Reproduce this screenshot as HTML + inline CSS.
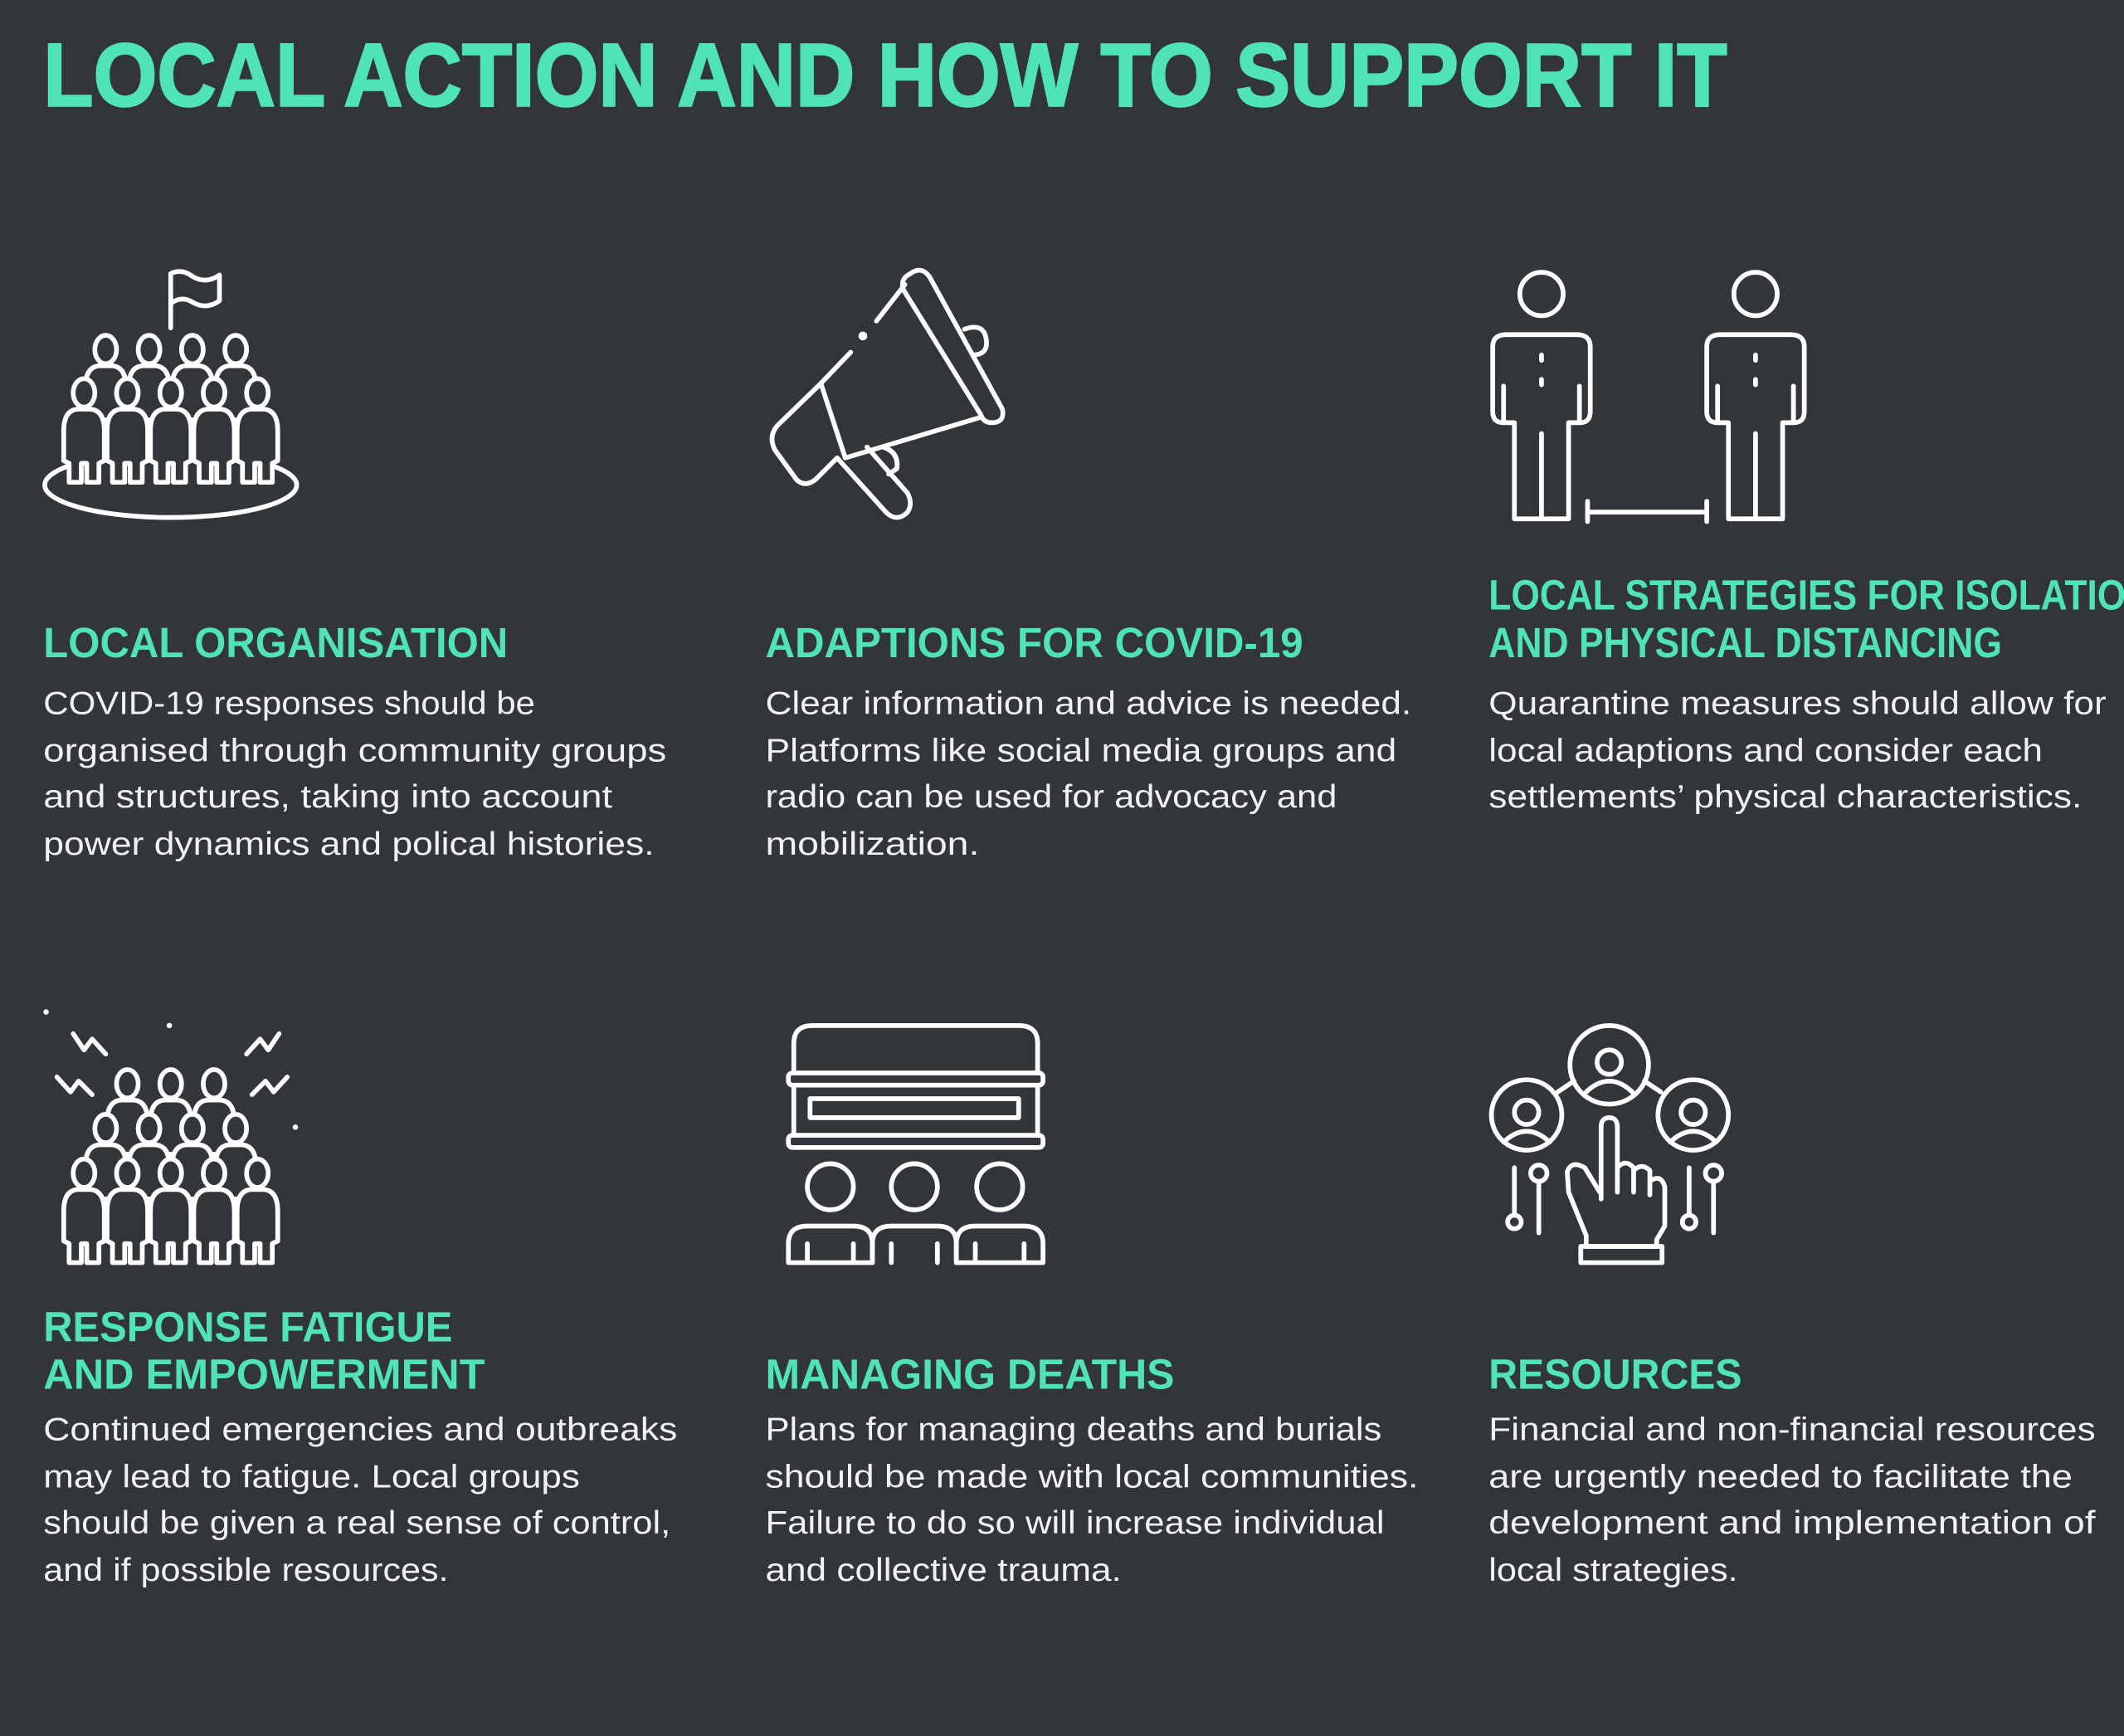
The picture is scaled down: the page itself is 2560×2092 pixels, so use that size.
<!DOCTYPE html>
<html><head><meta charset="utf-8"><style>
html,body{margin:0;padding:0;background:#323539;}
svg{display:block}
.t{font-family:"Liberation Sans",sans-serif;font-weight:bold;fill:#4fe3b6}
.h{font-family:"Liberation Sans",sans-serif;font-weight:bold;fill:#4fe3b6;font-size:31px}
.b{font-family:"Liberation Sans",sans-serif;fill:#f2f2f2;font-size:24px}
.i{fill:none;stroke:#fff;stroke-width:3.5;stroke-linecap:round;stroke-linejoin:round}
.f{fill:#323539;stroke:#fff;stroke-width:3.5;stroke-linejoin:round}
</style></head><body>
<svg width="2560" height="2092" viewBox="0 0 1568 1281.4" xmlns="http://www.w3.org/2000/svg">
<rect width="1568" height="1282" fill="#323539"/>
<text class="t" x="32" y="78" font-size="66" textLength="1243" lengthAdjust="spacingAndGlyphs" stroke="#4fe3b6" stroke-width="1.5">LOCAL ACTION AND HOW TO SUPPORT IT</text>

<text class="h" x="32" y="485" textLength="343" lengthAdjust="spacingAndGlyphs">LOCAL ORGANISATION</text>
<g class="b">
<text x="32" y="527" textLength="363" lengthAdjust="spacingAndGlyphs">COVID-19 responses should be</text>
<text x="32" y="562" textLength="460" lengthAdjust="spacingAndGlyphs">organised through community groups</text>
<text x="32" y="596" textLength="420" lengthAdjust="spacingAndGlyphs">and structures, taking into account</text>
<text x="32" y="631" textLength="451" lengthAdjust="spacingAndGlyphs">power dynamics and polical histories.</text>
</g>
<text class="h" x="565" y="485" textLength="397" lengthAdjust="spacingAndGlyphs">ADAPTIONS FOR COVID-19</text>
<g class="b">
<text x="565" y="527" textLength="477" lengthAdjust="spacingAndGlyphs">Clear information and advice is needed.</text>
<text x="565" y="562" textLength="466" lengthAdjust="spacingAndGlyphs">Platforms like social media groups and</text>
<text x="565" y="596" textLength="422" lengthAdjust="spacingAndGlyphs">radio can be used for advocacy and</text>
<text x="565" y="631" textLength="158" lengthAdjust="spacingAndGlyphs">mobilization.</text>
</g>
<text class="h" x="1099" y="450" textLength="490" lengthAdjust="spacingAndGlyphs">LOCAL STRATEGIES FOR ISOLATION</text>
<text class="h" x="1099" y="485" textLength="379" lengthAdjust="spacingAndGlyphs">AND PHYSICAL DISTANCING</text>
<g class="b">
<text x="1099" y="527" textLength="456" lengthAdjust="spacingAndGlyphs">Quarantine measures should allow for</text>
<text x="1099" y="562" textLength="409" lengthAdjust="spacingAndGlyphs">local adaptions and consider each</text>
<text x="1099" y="596" textLength="438" lengthAdjust="spacingAndGlyphs">settlements’ physical characteristics.</text>
</g>

<text class="h" x="32" y="990" textLength="302" lengthAdjust="spacingAndGlyphs">RESPONSE FATIGUE</text>
<text class="h" x="32" y="1025" textLength="326" lengthAdjust="spacingAndGlyphs">AND EMPOWERMENT</text>
<g class="b">
<text x="32" y="1063" textLength="468" lengthAdjust="spacingAndGlyphs">Continued emergencies and outbreaks</text>
<text x="32" y="1098" textLength="396" lengthAdjust="spacingAndGlyphs">may lead to fatigue. Local groups</text>
<text x="32" y="1132" textLength="463" lengthAdjust="spacingAndGlyphs">should be given a real sense of control,</text>
<text x="32" y="1167" textLength="299" lengthAdjust="spacingAndGlyphs">and if possible resources.</text>
</g>
<text class="h" x="565" y="1025" textLength="302" lengthAdjust="spacingAndGlyphs">MANAGING DEATHS</text>
<g class="b">
<text x="565" y="1063" textLength="455" lengthAdjust="spacingAndGlyphs">Plans for managing deaths and burials</text>
<text x="565" y="1098" textLength="482" lengthAdjust="spacingAndGlyphs">should be made with local communities.</text>
<text x="565" y="1132" textLength="457" lengthAdjust="spacingAndGlyphs">Failure to do so will increase individual</text>
<text x="565" y="1167" textLength="263" lengthAdjust="spacingAndGlyphs">and collective trauma.</text>
</g>
<text class="h" x="1099" y="1025" textLength="187" lengthAdjust="spacingAndGlyphs">RESOURCES</text>
<g class="b">
<text x="1099" y="1063" textLength="448" lengthAdjust="spacingAndGlyphs">Financial and non-financial resources</text>
<text x="1099" y="1098" textLength="431" lengthAdjust="spacingAndGlyphs">are urgently needed to facilitate the</text>
<text x="1099" y="1132" textLength="448" lengthAdjust="spacingAndGlyphs">development and implementation of</text>
<text x="1099" y="1167" textLength="184" lengthAdjust="spacingAndGlyphs">local strategies.</text>
</g>

<defs>
<g id="p">
<ellipse cx="0" cy="0" rx="8" ry="10.5" class="f"/>
<path class="f" d="M-15,50 L-15,28 Q-15,13 -5,12 L5,12 Q15,13 15,28 L15,50 L11,52 L11,66 L2,66 L2,52 L-2,52 L-2,66 L-11,66 L-11,52 Z"/>
</g>
<g id="q">
<circle cx="0" cy="-6" r="9" class="i"/>
<path class="i" d="M-17,16 Q0,0 17,16"/>
</g>
</defs>

<ellipse cx="126" cy="358" rx="93" ry="24" class="i"/>
<path class="i" d="M126,242 L126,202 Q134,198 142,204 Q152,210 162,203 L162,222 Q152,229 142,223 Q134,218 126,224"/>
<use href="#p" x="78" y="258"/><use href="#p" x="110" y="258"/><use href="#p" x="142" y="258"/><use href="#p" x="174" y="258"/>
<use href="#p" x="62" y="290"/><use href="#p" x="94" y="290"/><use href="#p" x="126" y="290"/><use href="#p" x="158" y="290"/><use href="#p" x="190" y="290"/>

<g class="i">
<path d="M672,202 Q680,196 686,204 L740,302 Q742,312 732,312 Q726,312 724,306 L667,214 Q664,206 672,202 Z"/>
<path d="M647,237 L668,210"/>
<circle cx="637" cy="248" r="1.5" fill="#fff"/>
<path d="M628,260 L606,283 L574,314 Q567,322 572,332 L588,354 Q594,360 602,354 L618,338"/>
<path d="M606,283 L624,338 L724,308"/>
<path d="M712,243 Q726,238 728,250 Q730,262 718,262"/>
<path d="M618,338 L654,378 Q662,386 670,378 Q674,372 670,364 L640,330"/>
<path d="M652,330 Q664,334 662,346 L656,350"/>
</g>

<g class="i">
<circle cx="1138" cy="217" r="16"/>
<path d="M1118,383 L1118,312 L1110,312 Q1102,312 1102,304 L1102,256 Q1102,247 1112,247 L1164,247 Q1174,247 1174,256 L1174,304 Q1174,312 1166,312 L1158,312 L1158,383 Z M1138,383 L1138,320 M1110,285 L1110,312 M1166,285 L1166,312"/>
<path d="M1138,262 L1138,266 M1138,280 L1138,284"/>
<circle cx="1296" cy="217" r="16"/>
<path d="M1276,383 L1276,312 L1268,312 Q1260,312 1260,304 L1260,256 Q1260,247 1270,247 L1322,247 Q1332,247 1332,256 L1332,304 Q1332,312 1324,312 L1316,312 L1316,383 Z M1296,383 L1296,320 M1268,285 L1268,312 M1324,285 L1324,312"/>
<path d="M1296,262 L1296,266 M1296,280 L1296,284"/>
<path d="M1172,378 L1260,378 M1172,370 L1172,385 M1260,370 L1260,385"/>
</g>

<g class="i">
<path d="M54,763 L62,775 L68,767 L78,778"/>
<path d="M42,795 L52,806 L58,798 L68,808"/>
<path d="M206,763 L198,775 L192,767 L182,778"/>
<path d="M212,795 L202,806 L196,798 L186,808"/>
</g>
<circle cx="34" cy="747" r="2" fill="#fff"/><circle cx="125" cy="757" r="2" fill="#fff"/><circle cx="218" cy="832" r="2" fill="#fff"/>
<use href="#p" x="94" y="800"/><use href="#p" x="126" y="800"/><use href="#p" x="158" y="800"/>
<use href="#p" x="78" y="833"/><use href="#p" x="110" y="833"/><use href="#p" x="142" y="833"/><use href="#p" x="174" y="833"/>
<use href="#p" x="62" y="866"/><use href="#p" x="94" y="866"/><use href="#p" x="126" y="866"/><use href="#p" x="158" y="866"/><use href="#p" x="190" y="866"/>

<g class="i">
<path d="M586,792 L586,770 Q586,757 600,757 L752,757 Q766,757 766,770 L766,792"/>
<rect x="582" y="792" width="188" height="9" rx="3"/>
<path d="M586,801 L586,838 M766,801 L766,838"/>
<rect x="598" y="811" width="154" height="14"/>
<rect x="582" y="838" width="188" height="9" rx="3"/>
<circle cx="613" cy="876" r="17"/><circle cx="675" cy="876" r="17"/><circle cx="738" cy="876" r="17"/>
<path d="M582,932 L582,918 Q582,905 596,905 L630,905 Q644,905 644,918 L644,932 Z M596,918 L596,932 M630,918 L630,932"/>
<path d="M644,932 L644,918 Q644,905 658,905 L692,905 Q706,905 706,918 L706,932 M658,918 L658,932 M692,918 L692,932"/>
<path d="M706,932 L706,918 Q706,905 720,905 L756,905 Q770,905 770,918 L770,932 Z M720,918 L720,932 M756,918 L756,932"/>
</g>

<g class="i">
<circle cx="1188" cy="786" r="29"/>
<circle cx="1127" cy="823" r="26"/>
<circle cx="1250" cy="823" r="26"/>
<path d="M1162,798 L1150,806 M1214,798 L1226,806"/>
</g>
<use href="#q" x="1188" y="790"/><use href="#q" x="1127" y="827"/><use href="#q" x="1250" y="827"/>
<g class="i">
<path d="M1182,885 L1182,832 Q1182,825 1188,825 Q1194,825 1194,832 L1194,880 L1194,862 Q1200,855 1206,862 L1206,880 L1206,864 Q1212,858 1218,864 L1218,882 L1218,872 Q1226,866 1229,876 L1229,905 L1223,915 L1223,920 L1171,920 L1171,912 L1158,880 L1157,865 Q1160,856 1170,862 L1181,880"/>
<rect x="1167" y="920" width="60" height="12"/>
<path d="M1118,862 L1118,896"/><circle cx="1118" cy="902" r="5"/>
<path d="M1136,872 L1136,910"/><circle cx="1136" cy="866" r="6"/>
<path d="M1247,862 L1247,896"/><circle cx="1247" cy="902" r="5"/>
<path d="M1265,872 L1265,910"/><circle cx="1265" cy="866" r="6"/>
</g>
</svg>
</body></html>
